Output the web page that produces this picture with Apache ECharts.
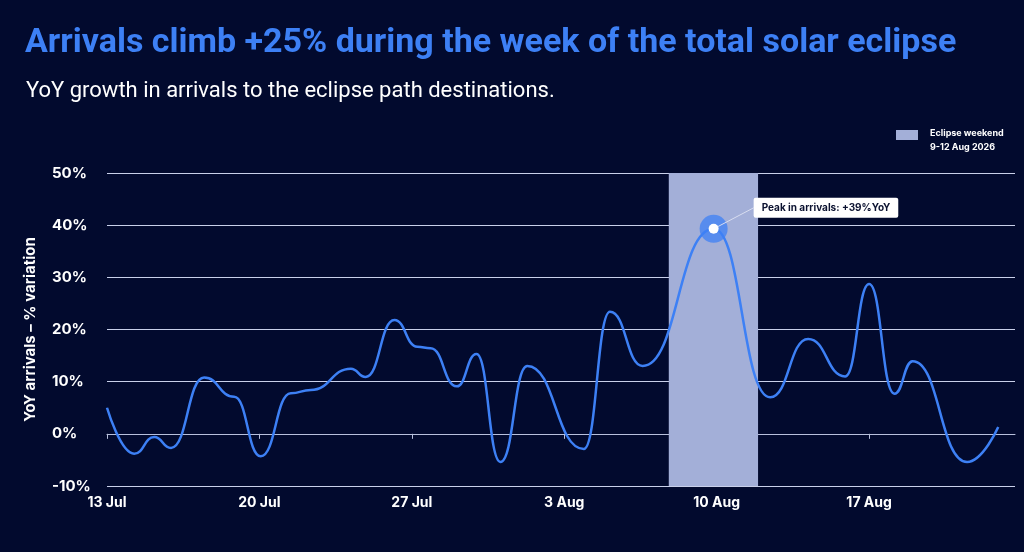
<!DOCTYPE html>
<html>
<head>
<meta charset="utf-8">
<script src="https://cdn.jsdelivr.net/npm/echarts@6/dist/echarts.min.js"></script>
<style>
  html, body { margin: 0; padding: 0; background: #020a2e; }
  #chart { width: 1024px; height: 552px; }
</style>
</head>
<body>
<div id="chart"></div>
<script>
// days counted from 13 Jul (0 = 13 Jul)
var dayOffsets = [0, 1.25, 2.17, 2.94, 4.46, 5.84, 7.06, 8.44, 9.36, 11.2, 11.88, 13.2, 14.25, 14.86,
  16.06, 16.97, 18.07, 19.3, 21.9, 23.1, 24.6, 27.86, 30.46, 32.2, 33.9,
  35.0, 36.16, 37.0, 39.5, 40.93];
var yoyValues = [5, -3.8, -0.6, -2.7, 10.8, 7.1, -4.3, 7.8, 8.4, 12.5, 10.9, 21.8, 16.7, 16.4,
  9.1, 15.3, -5.4, 13, -2.9, 23.4, 13, 39.3, 7, 18.2, 11,
  28.7, 7.7, 13.9, -5.4, 1.3];
var tickLabels = ['13 Jul', '20 Jul', '27 Jul', '3 Aug', '10 Aug', '17 Aug'];
var eclipseBand = [25.8, 29.9];
var peakPoint = [27.86, 39.3];
var peakText = 'Peak in arrivals: +39%YoY';

var chart = echarts.init(document.getElementById('chart'));

var lineData = [];
for (var i = 0; i < dayOffsets.length; i++) {
  lineData.push([dayOffsets[i], yoyValues[i]]);
}

chart.setOption({
  backgroundColor: '#020a2e',
  textStyle: { fontFamily: 'Inter, Roboto, sans-serif' },
  title: [{
    text: 'Arrivals climb +25% during the week of the total solar eclipse',
    left: 20,
    top: 21,
    textStyle: { color: '#3d80f5', fontSize: 34, fontWeight: 'bold', fontFamily: 'Roboto' }
  }, {
    text: 'YoY growth in arrivals to the eclipse path destinations.',
    left: 21,
    top: 75,
    textStyle: { color: '#ffffff', fontSize: 22, fontWeight: 'normal', fontFamily: 'Roboto' }
  }],
  graphic: [{
    type: 'rect',
    left: 896, top: 130,
    shape: { width: 22, height: 10 },
    style: { fill: '#a3afd8' }
  }, {
    type: 'text',
    left: 930, top: 129,
    style: { text: 'Eclipse weekend', fill: '#ffffff', font: 'bold 9px Inter' }
  }, {
    type: 'text',
    left: 930, top: 143,
    style: { text: '9-12 Aug 2026', fill: '#ffffff', font: 'bold 9px Inter' }
  }],
  grid: { left: 107, right: 9, top: 173, bottom: 66 },
  xAxis: {
    type: 'value',
    min: 0,
    max: 41.7,
    interval: 7,
    splitLine: { show: false },
    axisLine: { lineStyle: { color: '#b8c0dc', width: 1 } },
    axisTick: { show: true, length: 5, lineStyle: { color: '#b8c0dc' } },
    axisLabel: {
      color: '#ffffff', fontWeight: 'bold', fontSize: 14, margin: 10,
      showMaxLabel: false,
      formatter: function (v) {
        var k = Math.round(v / 7);
        return (Math.abs(v - k * 7) < 0.01 && tickLabels[k]) ? tickLabels[k] : '';
      }
    }
  },
  yAxis: {
    type: 'value',
    min: -10,
    max: 50,
    interval: 10,
    name: 'YoY arrivals \u2013 % variation',
    nameLocation: 'middle',
    nameGap: 69,
    nameTextStyle: { color: '#ffffff', fontWeight: 'bold', fontSize: 15 },
    axisLine: { show: false },
    axisTick: { show: false },
    axisLabel: {
      color: '#ffffff', fontWeight: 'bold', fontSize: 15, align: 'left', margin: 55,
      formatter: '{value}%'
    },
    splitLine: { lineStyle: { color: '#c9d0ea', width: 1 } }
  },
  series: [{
    name: 'YoY arrivals',
    type: 'line',
    data: lineData,
    smooth: 0.5,
    smoothMonotone: 'x',
    symbol: 'none',
    lineStyle: { color: '#3d80f5', width: 2.5 },
    z: 3,
    markArea: {
      silent: true,
      itemStyle: { color: '#a3afd8', opacity: 1 },
      data: [[{ xAxis: eclipseBand[0] }, { xAxis: eclipseBand[1] }]]
    }
  }, {
    name: 'Peak halo',
    type: 'scatter',
    data: [peakPoint],
    symbolSize: 28,
    itemStyle: { color: 'rgba(61,128,245,0.75)', opacity: 1 },
    z: 4,
    silent: true
  }, {
    name: 'Peak',
    type: 'scatter',
    data: [peakPoint],
    symbolSize: 10,
    itemStyle: { color: '#ffffff', opacity: 1 },
    z: 5,
    silent: true,
    label: {
      show: true,
      formatter: peakText,
      position: 'right',
      color: '#0b1230',
      fontSize: 10,
      fontWeight: 'bold',
      backgroundColor: '#ffffff',
      padding: [5, 8],
      borderRadius: 2
    },
    labelLayout: { dx: 30, dy: -21 },
    labelLine: { show: true, lineStyle: { color: '#d8ddf0', width: 1 } }
  }]
});
</script>
</body>
</html>
